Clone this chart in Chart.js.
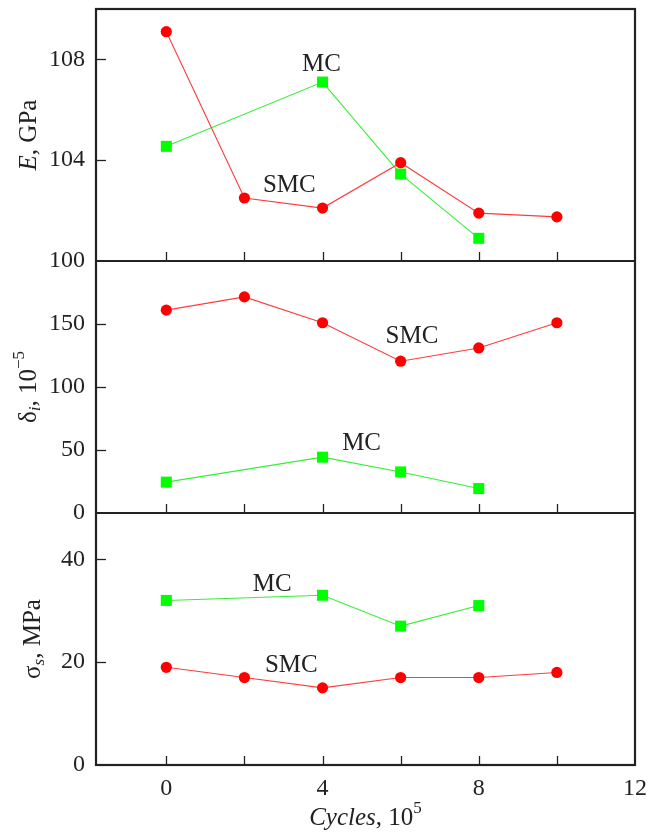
<!DOCTYPE html>
<html>
<head>
<meta charset="utf-8">
<script src="https://cdn.jsdelivr.net/npm/chart.js@4.4.1/dist/chart.umd.min.js"></script>
<style>
  html, body { margin: 0; padding: 0; background: #fff; }
  #wrap { width: 660px; height: 834px; }
</style>
</head>
<body>
<div id="wrap"><canvas id="chart" width="660" height="834"></canvas></div>
<script>
/* ── Data (cycles in units of 10^5) ── */
const cycles   = [0, 2, 4, 6, 8, 10];
const mcCycles = [0, 4, 6, 8];

const eSMC = [109.1, 102.5, 102.1, 103.9, 101.9, 101.75];
const eMC  = [104.55, 107.1, 103.45, 100.9];

const dSMC = [161, 171.5, 151, 120.5, 131, 151];
const dMC  = [24.5, 44.3, 32.6, 19.4];

const sSMC = [19, 17, 15, 17, 17, 18];
const sMC  = [32, 33, 27, 31];

/* ── Axis ticks ── */
const xTicks   = [0, 2, 4, 6, 8, 10, 12];
const xLabels  = [0, 4, 8, 12];
const eTicks   = [100, 102, 104, 106, 108, 110];
const eLabels  = [100, 104, 108];
const dTicks   = [0, 50, 100, 150, 200];
const dLabels  = [0, 50, 100, 150];
const sTicks   = [0, 10, 20, 30, 40];
const sLabels  = [0, 20, 40];

/* ── Curve labels: [axis, text, x, y] ── */
const notes = [
  ['yE', 'MC', 3.97, 107.8],
  ['yE', 'SMC', 3.15, 103.0],
  ['yD', 'SMC', 6.29, 140.5],
  ['yD', 'MC', 5.0, 55.6],
  ['yS', 'MC', 2.71, 35.1],
  ['yS', 'SMC', 3.2, 19.3]
];

const FONT = "'Liberation Serif', 'Times New Roman', serif";
const INK = '#222';
const RED = '#ff0000';
const GREEN = '#00ff00';

function pts(xs, ys) { return xs.map((x, i) => ({ x, y: ys[i] })); }

function smcSet(ys, axis) {
  return {
    data: pts(cycles, ys), yAxisID: axis,
    borderColor: '#ff3b3b', borderWidth: 1.1,
    pointStyle: 'circle', pointRadius: 5.6,
    pointBackgroundColor: RED, pointBorderWidth: 0
  };
}
function mcSet(ys, axis) {
  return {
    data: pts(mcCycles, ys), yAxisID: axis,
    borderColor: '#33f033', borderWidth: 1.1,
    pointStyle: 'rect', pointRadius: 7.8,
    pointBackgroundColor: GREEN, pointBorderWidth: 0
  };
}

function yScale(min, max, ticks, labels) {
  return {
    type: 'linear', position: 'left', stack: 'panels', stackWeight: 1,
    min, max,
    grid: { display: false, drawTicks: false },
    border: { display: false },
    afterBuildTicks: s => { s.ticks = ticks.map(v => ({ value: v })); },
    afterFit: s => { s.width = 96; s.paddingTop = 0; s.paddingBottom = 0; },
    ticks: {
      color: INK, padding: 11,
      font: { family: FONT, size: 24 },
      callback: v => labels.includes(v) ? String(v) : null
    }
  };
}

/* ── Rich text (italic / sub / sup pieces) ── */
function richText(ctx, parts, cx, cy, size, rot) {
  const fontOf = p => (p.i ? 'italic ' : '') + (p.sub || p.sup ? size * 0.68 : size) + 'px ' + FONT;
  let total = 0;
  parts.forEach(p => { ctx.font = fontOf(p); total += ctx.measureText(p.t).width; });
  ctx.save();
  ctx.translate(cx, cy);
  if (rot) ctx.rotate(rot);
  ctx.fillStyle = INK;
  ctx.textBaseline = 'middle';
  ctx.textAlign = 'left';
  let x = -total / 2;
  parts.forEach(p => {
    ctx.font = fontOf(p);
    const dy = p.sub ? size * 0.28 : p.sup ? -size * 0.38 : 0;
    ctx.fillText(p.t, x, dy);
    x += ctx.measureText(p.t).width;
  });
  ctx.restore();
}

const frame = {
  id: 'frame',
  afterDraw(chart) {
    const { ctx, chartArea: a, scales } = chart;
    const x = scales.x;
    ctx.save();
    ctx.strokeStyle = INK;

    // inward tick marks
    ctx.lineWidth = 1.3;
    ['yE', 'yD', 'yS'].forEach(id => {
      const s = scales[id];
      s.ticks.forEach(t => {
        if (t.value <= s.min || t.value >= s.max) return;
        const py = Math.round(s.getPixelForValue(t.value)) + 0.5;
        ctx.beginPath(); ctx.moveTo(a.left, py); ctx.lineTo(a.left + 10, py); ctx.stroke();
      });
      xTicks.forEach(v => {
        if (v >= x.max) return;
        const px = Math.round(x.getPixelForValue(v)) + 0.5;
        ctx.beginPath(); ctx.moveTo(px, s.bottom); ctx.lineTo(px, s.bottom - 9); ctx.stroke();
      });
    });

    // frame and panel separators
    ctx.lineWidth = 2.2;
    ctx.strokeRect(a.left, a.top, a.right - a.left, a.bottom - a.top);
    ['yD', 'yS'].forEach(id => {
      const py = scales[id].top;
      ctx.beginPath(); ctx.moveTo(a.left, py); ctx.lineTo(a.right, py); ctx.stroke();
    });
    ctx.restore();

    // curve labels
    ctx.save();
    ctx.fillStyle = INK;
    ctx.font = '25px ' + FONT;
    ctx.textAlign = 'center';
    ctx.textBaseline = 'middle';
    notes.forEach(([id, t, vx, vy]) => {
      ctx.fillText(t, x.getPixelForValue(vx), scales[id].getPixelForValue(vy));
    });
    ctx.restore();

    // axis titles
    const mid = id => (scales[id].top + scales[id].bottom) / 2;
    const up = -Math.PI / 2;
    richText(ctx, [{ t: 'E', i: true }, { t: ', GPa' }], 29, mid('yE'), 25, up);
    richText(ctx, [{ t: 'δ' }, { t: 'i', i: true, sub: true }, { t: ', 10' }, { t: '−5', sup: true }], 29, mid('yD'), 25, up);
    richText(ctx, [{ t: 'σ' }, { t: 's', i: true, sub: true }, { t: ', MPa' }], 33, mid('yS'), 25, up);
    richText(ctx, [{ t: 'Cycles', i: true }, { t: ', 10' }, { t: '5', sup: true }], (a.left + a.right) / 2, 818, 25, 0);
  }
};

new Chart(document.getElementById('chart'), {
  type: 'line',
  data: {
    datasets: [
      smcSet(eSMC, 'yE'), mcSet(eMC, 'yE'),
      smcSet(dSMC, 'yD'), mcSet(dMC, 'yD'),
      smcSet(sSMC, 'yS'), mcSet(sMC, 'yS')
    ]
  },
  options: {
    responsive: false,
    animation: false,
    layout: { padding: { left: 0, right: 25, top: 9, bottom: 0 } },
    plugins: { legend: { display: false }, tooltip: { enabled: false } },
    scales: {
      x: {
        type: 'linear', min: -1.8, max: 12,
        grid: { display: false, drawTicks: false },
        border: { display: false },
        afterBuildTicks: s => { s.ticks = xTicks.map(v => ({ value: v })); },
        afterFit: s => { s.height = 69; s.paddingLeft = 0; s.paddingRight = 0; },
        ticks: {
          color: INK, padding: 9, maxRotation: 0, autoSkip: false,
          font: { family: FONT, size: 24 },
          callback: v => xLabels.includes(v) ? String(v) : null
        }
      },
      // left stacks place the last-defined scale on top
      yS: yScale(0, 49, sTicks, sLabels),
      yD: yScale(0, 200, dTicks, dLabels),
      yE: yScale(100, 110, eTicks, eLabels)
    }
  },
  plugins: [frame]
});
</script>
</body>
</html>
